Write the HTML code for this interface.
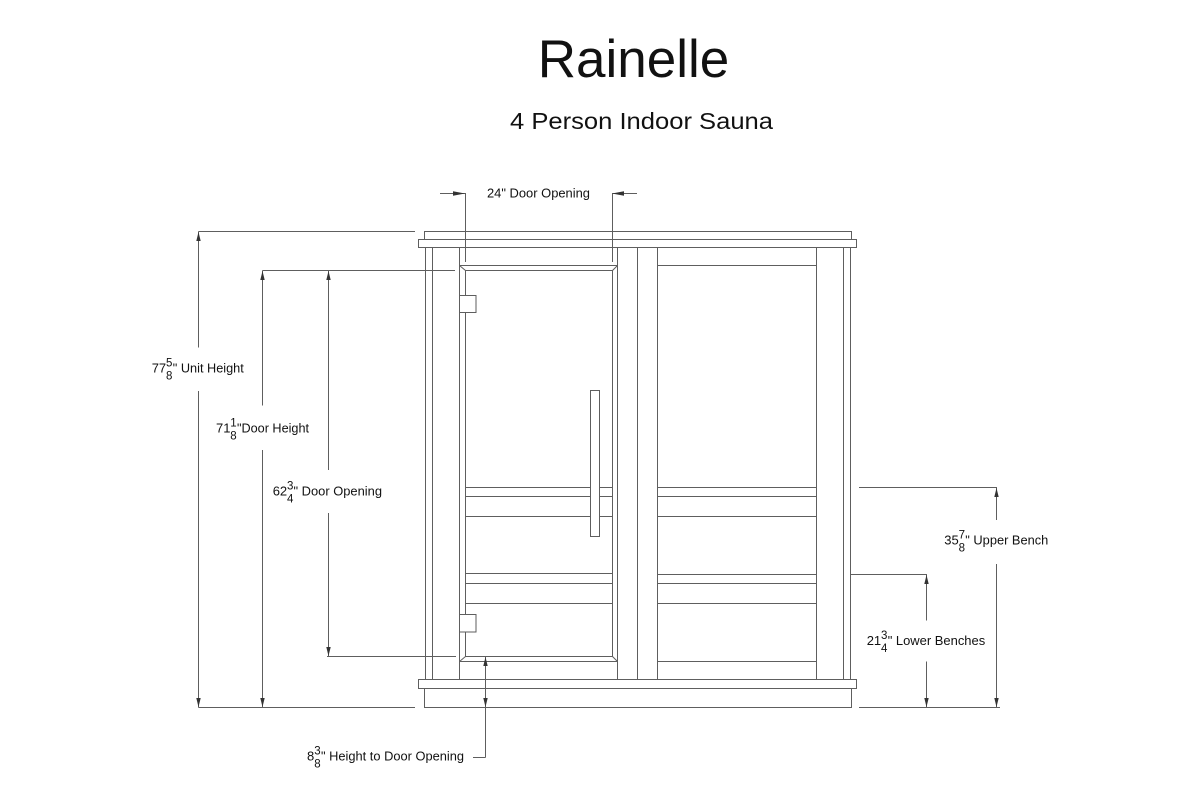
<!DOCTYPE html>
<html><head><meta charset="utf-8"><style>
html,body{margin:0;padding:0;background:#fff;}
svg{display:block;}
text{font-family:"Liberation Sans",Arial,sans-serif;fill:#111;}
</style></head><body>
<svg width="1200" height="800" viewBox="0 0 1200 800" xmlns="http://www.w3.org/2000/svg">
<rect width="1200" height="800" fill="#fff"/>
<text x="633.5" y="77" font-size="53" text-anchor="middle" fill="#000">Rainelle</text>
<text x="510" y="129" font-size="23.5" textLength="263" lengthAdjust="spacingAndGlyphs" fill="#000">4 Person Indoor Sauna</text>

<g stroke="#5e5e5e" stroke-width="1" fill="none">
  <!-- top cap -->
  <rect x="424.5" y="231.5" width="427" height="8"/>
  <rect x="418.5" y="239.5" width="438" height="8"/>
  <!-- base -->
  <rect x="418.5" y="679.5" width="438" height="9"/>
  <rect x="424.5" y="688.5" width="427" height="19"/>
  <!-- verticals -->
  <path d="M425.5 247.5V679.5 M432.5 247.5V679.5 M459.5 247.5V679.5 M617.5 247.5V679.5 M637.5 247.5V679.5 M657.5 247.5V679.5 M816.5 247.5V679.5 M843.5 247.5V679.5 M850.5 247.5V679.5"/>
  <!-- door inner -->
  <path d="M465.5 270.5V656.5 M612.5 270.5V656.5"/>
  <path d="M459.5 265.5H617.5 M465.5 270.5H612.5 M459.5 265.5L465.5 270.5 M617.5 265.5L612.5 270.5"/>
  <path d="M459.5 661.5H617.5 M465.5 656.5H612.5 M459.5 661.5L465.5 656.5 M617.5 661.5L612.5 656.5"/>
  <!-- door horizontals -->
  <path d="M465.5 487.5H612.5 M465.5 496.5H612.5 M465.5 516.5H612.5 M465.5 573.5H612.5 M465.5 583.5H612.5 M465.5 603.5H612.5"/>
  <!-- right panel horizontals -->
  <path d="M657.5 265.5H816.5 M657.5 487.5H816.5 M657.5 496.5H816.5 M657.5 516.5H816.5 M657.5 574.5H816.5 M657.5 583.5H816.5 M657.5 603.5H816.5 M657.5 661.5H816.5"/>
  <!-- hinges -->
  <rect x="459.5" y="295.5" width="16.5" height="17" fill="#fff"/>
  <rect x="459.5" y="614.5" width="16.5" height="17.5" fill="#fff"/>
  <!-- handle -->
  <rect x="590.5" y="390.5" width="9" height="146" fill="#fff"/>

  <!-- 24" door opening -->
  <path d="M440 193.5H465 M465.5 193V262 M612.5 193V262 M612 193.5H637"/>
  <!-- unit height -->
  <path d="M198.5 231.5H415 M198.5 707.5H415 M198.5 231.5V347.5 M198.5 391V707.5"/>
  <!-- door height -->
  <path d="M262.5 270.5H455 M262.5 270.5V405.5 M262.5 450V707.5"/>
  <!-- 62 3/4 door opening -->
  <path d="M328.5 270.5V470 M328.5 513V656.5 M327 656.5H456"/>
  <!-- upper bench -->
  <path d="M859 487.5H997 M996.5 487.5V520 M996.5 564V707.5 M859 707.5H1000"/>
  <!-- lower bench -->
  <path d="M851 574.5H927 M926.5 574.5V620.5 M926.5 661.5V707.5"/>
  <!-- 8 3/8 -->
  <path d="M485.5 657V757.5 M473 757.5H485.5"/>
</g>

<g fill="#333" stroke="none">
  <!-- 24" arrows -->
  <polygon points="465,193.5 453,191.3 453,195.7"/>
  <polygon points="612,193.5 624,191.3 624,195.7"/>
  <!-- unit height -->
  <polygon points="198.5,232 196.3,241 200.7,241"/>
  <polygon points="198.5,707 196.3,698 200.7,698"/>
  <!-- door height -->
  <polygon points="262.5,271 260.3,280 264.7,280"/>
  <polygon points="262.5,707 260.3,698 264.7,698"/>
  <!-- door opening -->
  <polygon points="328.5,271 326.3,280 330.7,280"/>
  <polygon points="328.5,656 326.3,647 330.7,647"/>
  <!-- upper bench -->
  <polygon points="996.5,488 994.3,497 998.7,497"/>
  <polygon points="996.5,707 994.3,698 998.7,698"/>
  <!-- lower bench -->
  <polygon points="926.5,575 924.3,584 928.7,584"/>
  <polygon points="926.5,707 924.3,698 928.7,698"/>
  <!-- 8 3/8 -->
  <polygon points="485.5,657 483.3,666 487.7,666"/>
  <polygon points="485.5,707 483.3,698 487.7,698"/>
</g>

<g font-size="13">
  <text x="487" y="197.5" textLength="103" lengthAdjust="spacingAndGlyphs">24" Door Opening</text>

  <text x="151.7" y="372.3">77</text>
  <text x="166" y="366.3" font-size="11.5">5</text>
  <text x="166" y="379.3" font-size="11.5">8</text>
  <text x="172.8" y="372.3" textLength="71" lengthAdjust="spacingAndGlyphs">" Unit Height</text>

  <text x="216" y="432.3">71</text>
  <text x="230.3" y="426.3" font-size="11.5">1</text>
  <text x="230.3" y="439.3" font-size="11.5">8</text>
  <text x="237" y="432.3" textLength="72" lengthAdjust="spacingAndGlyphs">"Door Height</text>

  <text x="272.7" y="495.3">62</text>
  <text x="287" y="489.3" font-size="11.5">3</text>
  <text x="287" y="502.3" font-size="11.5">4</text>
  <text x="293.5" y="495.3" textLength="88.5" lengthAdjust="spacingAndGlyphs">" Door Opening</text>

  <text x="944.3" y="544.3">35</text>
  <text x="958.6" y="538.3" font-size="11.5">7</text>
  <text x="958.6" y="551.3" font-size="11.5">8</text>
  <text x="965.3" y="544.3" textLength="83" lengthAdjust="spacingAndGlyphs">" Upper Bench</text>

  <text x="866.7" y="645">21</text>
  <text x="881" y="639" font-size="11.5">3</text>
  <text x="881" y="652" font-size="11.5">4</text>
  <text x="887.7" y="645" textLength="97.5" lengthAdjust="spacingAndGlyphs">" Lower Benches</text>

  <text x="307" y="760.7">8</text>
  <text x="314.3" y="754.7" font-size="11.5">3</text>
  <text x="314.3" y="767.7" font-size="11.5">8</text>
  <text x="321" y="760.7" textLength="143" lengthAdjust="spacingAndGlyphs">" Height to Door Opening</text>
</g>
</svg>
</body></html>
